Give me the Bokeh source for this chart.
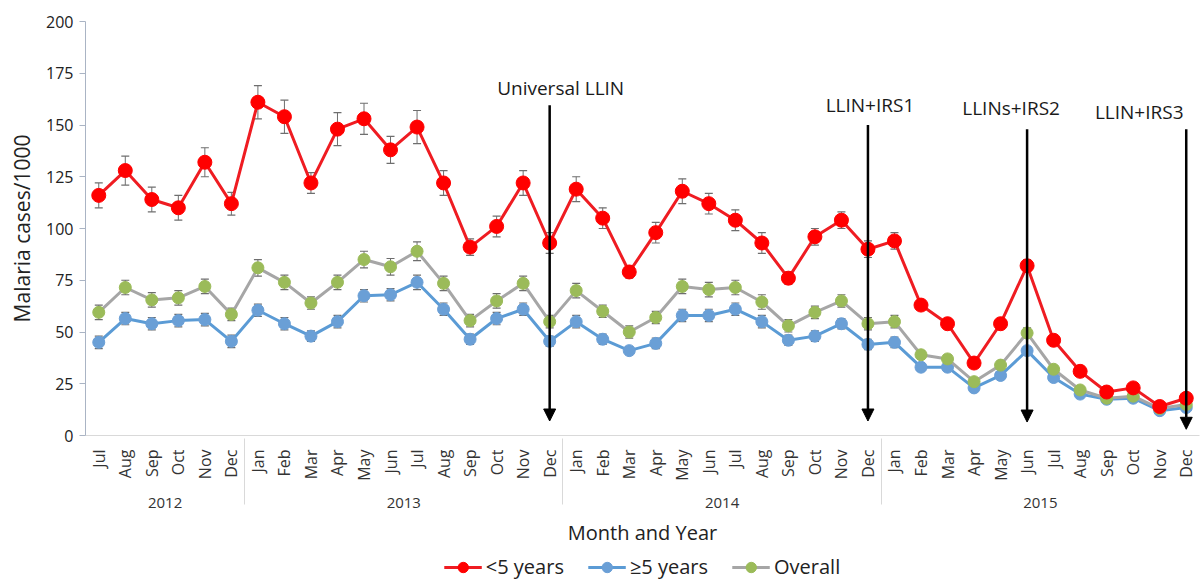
import math
from bokeh.plotting import figure
from bokeh.layouts import column
from bokeh.models import (FactorRange, Range1d, FixedTicker, ColumnDataSource, Whisker,
                          TeeHead, Legend, LegendItem, Arrow, NormalHead)
from bokeh.core.properties import value
from bokeh.embed import file_html
from bokeh.resources import INLINE

# ---------------- data ----------------
years = ["2012"] * 6 + ["2013"] * 12 + ["2014"] * 12 + ["2015"] * 12
months = (["Jul", "Aug", "Sep", "Oct", "Nov", "Dec"]
          + ["Jan", "Feb", "Mar", "Apr", "May", "Jun", "Jul", "Aug", "Sep", "Oct", "Nov", "Dec"] * 3)

under5 = [116, 128, 114, 110, 132, 112,
          161, 154, 122, 148, 153, 138, 149, 122, 91, 101, 122, 93,
          119, 105, 79, 98, 118, 112, 104, 93, 76, 96, 104, 90,
          94, 63, 54, 35, 54, 82, 46, 31, 21, 23, 14, 18]
under5_err = [6, 7, 6, 6, 7, 5.5,
              8, 8, 5, 8, 7.5, 6.5, 8, 6, 4, 5, 6, 5,
              6, 5, 3, 5, 6, 5, 5, 5, 3, 4, 4, 4,
              4, 2, 2, 2, 2, 3, 2, 2, 2, 2, 2, 2]

over5 = [45, 56.5, 54, 55.5, 56, 45.5,
         60.5, 54, 48, 55, 67.5, 68, 74, 61, 46.5, 56.5, 61, 45.5,
         55, 46.5, 41, 44.5, 58, 58, 61, 55, 46, 48, 54, 44,
         45, 33, 33, 23, 29, 41, 28, 20, 17.5, 18, 12, 13.5]
over5_err = [3, 3, 3, 3, 3, 3,
             3, 3, 2.5, 3, 3, 3, 3.5, 3, 2.5, 3, 3, 2.5,
             3, 2.5, 2, 2.5, 3, 3, 3, 3, 2.5, 2.5, 2.5, 2.5,
             2.5, 2, 2, 1.5, 1.5, 2, 1.5, 1.5, 1.5, 1.5, 1, 1]

overall = [59.5, 71.5, 65.5, 66.5, 72, 58.5,
           81, 74, 64, 74, 85, 81.5, 89, 73.5, 55.5, 65, 73.5, 55,
           70, 60, 50, 57, 72, 70.5, 71.5, 64.5, 53, 59.5, 65, 54,
           55, 39, 37, 26, 34, 49.5, 32, 22, 18, 19, 13, 15]
overall_err = [3.5, 3.5, 3.5, 3.5, 3.5, 3,
               4, 3.5, 3, 3.5, 4, 4, 4.5, 3.5, 3, 3.5, 3.5, 3,
               3.5, 3, 3, 3, 3.5, 3.5, 3.5, 3.5, 3, 3, 3, 3,
               3, 2, 2, 1.5, 2, 2.5, 1.5, 1.5, 1.5, 1.5, 1, 1]

ann_labels = ["Universal LLIN", "LLIN+IRS1", "LLINs+IRS2", "LLIN+IRS3"]
ann_years = ["2013", "2014", "2015", "2015"]
ann_months = ["Dec", "Dec", "Jun", "Dec"]

y_ticks = [0, 25, 50, 75, 100, 125, 150, 175, 200]

# ---------------- figure ----------------
FONT = "Open Sans"
W = 1200
factors = list(zip(years, months))
x_range = FactorRange(*factors, group_padding=0, factor_padding=0,
                      subgroup_padding=0, range_padding=0)

p = figure(width=W, height=550, x_range=x_range, y_range=Range1d(0, 200),
           output_backend="svg", toolbar_location=None,
           min_border_left=85, min_border_right=1, min_border_top=21, min_border_bottom=115,
           background_fill_color="white", border_fill_color="white", outline_line_color=None)

p.xgrid.visible = False
p.ygrid.visible = False

yax = p.yaxis[0]
yax.ticker = FixedTicker(ticks=y_ticks)
yax.axis_label = "Malaria cases/1000"
yax.axis_label_text_font = FONT
yax.axis_label_text_font_size = "21px"
yax.axis_label_text_font_style = "normal"
yax.axis_label_text_color = "#222222"
yax.axis_label_standoff = 7
yax.major_label_text_font = FONT
yax.major_label_text_font_size = "16px"
yax.major_label_text_color = "#222222"
yax.major_label_standoff = 6
yax.axis_line_color = "#aab4c4"
yax.major_tick_line_color = "#aab4c4"
yax.major_tick_out = 6
yax.major_tick_in = 0
yax.minor_tick_line_color = None

xax = p.xaxis[0]
xax.axis_label = "Month and Year"
xax.axis_label_text_font = FONT
xax.axis_label_text_font_size = "20px"
xax.axis_label_text_font_style = "normal"
xax.axis_label_text_color = "#222222"
xax.axis_label_standoff = 8
xax.major_label_orientation = math.pi / 2
xax.major_label_text_font = FONT
xax.major_label_text_font_size = "16px"
xax.major_label_text_color = "#333333"
xax.major_label_standoff = 14
xax.group_text_font = FONT
xax.group_text_font_size = "15px"
xax.group_text_color = "#333333"
xax.group_text_font_style = "normal"
xax.major_tick_line_color = None
xax.major_tick_out = 0
xax.axis_line_color = "#d9d9d9"
xax.separator_line_color = "#d9d9d9"
xax.separator_line_width = 1

src = ColumnDataSource(dict(
    x=factors,
    u5=under5, u5_lo=[v - e for v, e in zip(under5, under5_err)], u5_hi=[v + e for v, e in zip(under5, under5_err)],
    o5=over5, o5_lo=[v - e for v, e in zip(over5, over5_err)], o5_hi=[v + e for v, e in zip(over5, over5_err)],
    ov=overall, ov_lo=[v - e for v, e in zip(overall, overall_err)], ov_hi=[v + e for v, e in zip(overall, overall_err)],
))

ERR = "#6e6e6e"
for lo, hi in (("o5_lo", "o5_hi"), ("ov_lo", "ov_hi"), ("u5_lo", "u5_hi")):
    w = Whisker(base="x", lower=lo, upper=hi, source=src, dimension="height",
                line_color=ERR, line_width=1, level="underlay",
                upper_head=TeeHead(size=8, line_color=ERR, line_width=1.2),
                lower_head=TeeHead(size=8, line_color=ERR, line_width=1.2))
    p.add_layout(w)

series = [
    ("o5", "#5b9bd5", "#6a9fd6", 12, "≥5 years"),
    ("ov", "#a6a6a6", "#9bbb59", 12, "Overall"),
    ("u5", "#ef1c22", "#ff0000", 14, "<5 years"),
]
for col, lc, mc, sz, lab in series:
    p.line(x="x", y=col, source=src, line_color=lc, line_width=3)
    p.scatter(x="x", y=col, source=src, size=sz, fill_color=mc, line_color=mc)

# ---------------- intervention arrows ----------------
ann_x = list(zip(ann_years, ann_months))
ann_idx = [factors.index(f) + 0.5 for f in ann_x]
arrow_src = ColumnDataSource(dict(
    xs=ann_idx,
    y0=[159.5, 150, 148, 148],
    y1=[7, 7, 6.5, 3],
))
p.add_layout(Arrow(x_start="xs", y_start="y0", x_end="xs", y_end="y1", source=arrow_src,
                   line_color="black", line_width=2.5,
                   end=NormalHead(size=12, fill_color="black", line_color="black", line_width=1)))

p.text(x=ann_x, y=[168, 159.5, 158, 156.5], text=ann_labels,
       x_offset=[11, 2, -16, -47],
       text_align="center", text_baseline="middle",
       text_font=value(FONT), text_font_size="19px", text_color="#1a1a1a")

# ---------------- legend strip (same series, drawn off-range) ----------------
lg = figure(width=W, height=30, x_range=FactorRange(*factors), y_range=Range1d(1000, 1001),
            output_backend="svg", toolbar_location=None, min_border=0,
            background_fill_color="white", border_fill_color="white", outline_line_color=None)
lg.xaxis.visible = False
lg.yaxis.visible = False
lg.xgrid.visible = False
lg.ygrid.visible = False
items = {}
for col, lc, mc, sz, lab in series:
    lr = lg.line(x="x", y=col, source=src, line_color=lc, line_width=3)
    sr = lg.scatter(x="x", y=col, source=src, size=sz - 3, fill_color=mc, line_color=mc)
    items[lab] = LegendItem(label=lab, renderers=[lr, sr])
legend = Legend(items=[items["<5 years"], items["≥5 years"], items["Overall"]],
                orientation="horizontal", location="bottom_center",
                label_text_font=FONT, label_text_font_size="20px", label_text_color="#222222",
                label_text_baseline="middle",
                glyph_width=38, glyph_height=26, spacing=24, padding=0, margin=0,
                border_line_color=None, background_fill_alpha=0, label_standoff=4,
                label_height=26)
lg.add_layout(legend)

layout = column(p, lg, spacing=0)
open("out.html", "w").write(file_html(layout, INLINE))
